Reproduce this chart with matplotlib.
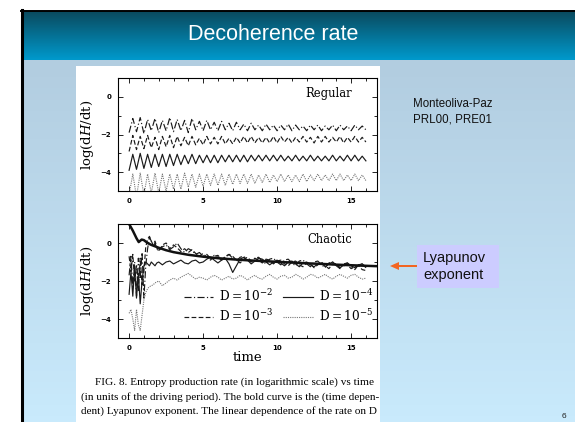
import numpy as np
import matplotlib
matplotlib.use('Agg')
import matplotlib.pyplot as plt
from matplotlib.patches import Rectangle, FancyArrow
from matplotlib.ticker import MultipleLocator

plt.rcParams['mathtext.fontset'] = 'dejavuserif'

# ------------------------------------------------------------------
# Datos
titulo = 'Decoherence rate'
referencia = ['Monteoliva-Paz', 'PRL00, PRE01']
caja_texto = ['Lyapunov', 'exponent']
pie = ['FIG. 8. Entropy production rate (in logarithmic scale) vs time',
       '(in units of the driving period). The bold curve is the (time depen-',
       'dent) Lyapunov exponent. The linear dependence of the rate on D']
etiquetas = [r'D$=10^{-2}$', r'D$=10^{-3}$', r'D$=10^{-4}$', r'D$=10^{-5}$']
xticks = [0, 5, 10, 15]
yticks = [0, -2, -4]

# Panel regular: paso 0.25 en tiempo (t = 0 ... 16)
t_reg = np.arange(0, 16.01, 0.25)
reg_d2 = [-1.9, -1.15, -1.85, -1.1,  -1.95, -1.2, -1.8, -1.15,
          -1.9, -1.25, -1.8, -1.1,   -1.85, -1.2, -1.8, -1.25,
          -1.9, -1.15, -1.75, -1.3,  -1.8, -1.25, -1.75, -1.35,
          -1.8, -1.3, -1.75, -1.4,   -1.8, -1.35, -1.75, -1.45,
          -1.8, -1.4, -1.75, -1.5,   -1.8, -1.45, -1.75, -1.5,
          -1.8, -1.5, -1.75, -1.45,  -1.8, -1.5, -1.75, -1.55,
          -1.8, -1.5, -1.75, -1.5,   -1.8, -1.55, -1.75, -1.5,
          -1.8, -1.5, -1.75, -1.55,  -1.8, -1.5, -1.75, -1.55,
          -1.75]
reg_d3 = [-2.9, -2.05, -2.8, -2.1,   -2.75, -2.05, -2.7, -2.15,
          -2.8, -2.1, -2.65, -2.05,  -2.7, -2.1, -2.6, -2.15,
          -2.6, -2.1, -2.55, -2.2,   -2.55, -2.1, -2.5, -2.15,
          -2.5, -2.1, -2.5, -2.2,    -2.5, -2.15, -2.45, -2.1,
          -2.45, -2.1, -2.45, -2.15, -2.45, -2.15, -2.45, -2.1,
          -2.45, -2.1, -2.4, -2.15,  -2.45, -2.15, -2.4, -2.1,
          -2.4, -2.15, -2.45, -2.1,  -2.4, -2.1, -2.4, -2.15,
          -2.4, -2.1, -2.45, -2.15,  -2.4, -2.1, -2.4, -2.15,
          -2.4]
reg_d4 = [-3.9, -3.05, -3.85, -3.0,  -3.8, -3.05, -3.75, -3.05,
          -3.7, -3.05, -3.7, -3.05,  -3.65, -3.05, -3.6, -3.1,
          -3.55, -3.05, -3.55, -3.1, -3.5, -3.1, -3.5, -3.1,
          -3.5, -3.1, -3.45, -3.1,   -3.45, -3.1, -3.45, -3.1,
          -3.45, -3.1, -3.4, -3.1,   -3.4, -3.1, -3.4, -3.1,
          -3.4, -3.1, -3.4, -3.15,   -3.4, -3.1, -3.4, -3.15,
          -3.4, -3.1, -3.4, -3.15,   -3.4, -3.15, -3.4, -3.1,
          -3.4, -3.15, -3.4, -3.1,   -3.4, -3.1, -3.4, -3.15,
          -3.4]
reg_d5 = [-5.2, -4.1, -5.3, -4.05,   -5.2, -4.1, -5.1, -4.05,
          -5.1, -4.1, -5.0, -4.1,    -4.9, -4.1, -4.9, -4.05,
          -4.8, -4.1, -4.8, -4.1,    -4.75, -4.1, -4.7, -4.1,
          -4.7, -4.1, -4.7, -4.1,    -4.65, -4.1, -4.6, -4.1,
          -4.6, -4.1, -4.6, -4.15,   -4.55, -4.1, -4.55, -4.15,
          -4.5, -4.1, -4.5, -4.15,   -4.5, -4.15, -4.5, -4.1,
          -4.5, -4.15, -4.45, -4.1,  -4.45, -4.15, -4.45, -4.1,
          -4.45, -4.1, -4.45, -4.15, -4.45, -4.1, -4.45, -4.15,
          -4.45]

# Panel caotico: paso 0.125 hasta t=2, luego 0.25 hasta t=16
t_cao = np.concatenate([np.arange(0, 2, 0.125), np.arange(2, 16.01, 0.25)])
cao_d2 = [-1.7, -0.7, -2.3, -1.0, -2.8, -0.8, -1.9, -0.5,
          -2.9, -1.2, -0.3, 0.3, 0.1, -0.2, 0.0, -0.3,
          -0.4, -0.2, -0.1, -0.35,  -0.2, 0.0, -0.3, -0.5,
          -0.3, -0.4, -0.6, -0.5,   -0.7, -0.6, -0.8, -0.65,
          -0.75, -0.9, -0.7, -0.6,  -0.8, -0.95, -0.75, -0.7,
          -0.9, -1.0, -0.8, -0.75,  -0.95, -1.1, -0.85, -0.8,
          -1.0, -1.15, -0.9, -0.85, -1.05, -1.2, -0.95, -0.9,
          -1.1, -1.25, -1.0, -0.95, -1.15, -1.3, -1.05, -1.0,
          -1.2, -1.35, -1.1, -1.05, -1.25, -1.4, -1.15, -1.1,
          -1.3]
cao_d3 = [-0.7, -1.5, -0.6, -2.0, -1.2, -2.5, -0.8, -2.2,
          -1.5, -0.2, 0.2, 0.35, 0.1, -0.1, 0.1, -0.2,
          -0.45, -0.1, 0.0, -0.3,   -0.1, -0.25, -0.45, -0.3,
          -0.5, -0.35, -0.55, -0.7, -0.55, -0.75, -0.9, -0.7,
          -0.65, -0.85, -0.75, -0.6, -0.7, -0.9, -1.05, -0.85,
          -0.75, -0.95, -0.8, -0.9, -1.05, -0.85, -0.9, -1.1,
          -0.95, -0.9, -1.1, -1.2,  -1.0, -0.95, -1.15, -1.25,
          -1.05, -1.1, -1.3, -1.15, -1.0, -1.2, -1.35, -1.1,
          -1.1, -1.3, -1.2, -1.15,  -1.35, -1.25, -1.2, -1.4,
          -1.45]
cao_d4 = [-2.7, -1.5, -2.8, -1.3, -2.9, -1.6, -3.2, -2.0,
          -1.2, -1.0, -1.1, -1.2, -1.0, -1.1, -1.2, -1.05,
          -1.0, -1.15, -1.0, -0.95, -1.1, -1.0, -0.9, -1.05,
          -1.1, -0.95, -0.9, -1.05,  -1.0, -0.85, -0.75, -0.9,
          -1.05, -0.9, -0.8, -1.1,   -1.55, -1.2, -0.85, -0.75,
          -0.9, -1.1, -0.95, -0.8,   -0.85, -1.0, -1.15, -1.0,
          -0.9, -1.05, -1.2, -1.0,   -0.95, -1.1, -1.25, -1.05,
          -1.0, -1.15, -1.25, -1.1,  -1.05, -1.25, -1.1, -1.0,
          -1.15, -1.3, -1.15, -1.05, -1.2, -1.3, -1.15, -1.1,
          -1.25]
cao_d5 = [-3.7, -3.5, -4.0, -4.6, -3.5, -4.3, -4.6, -3.8,
          -3.0, -2.6, -2.4, -2.3, -2.25, -2.2, -2.1, -2.05,
          -2.0, -2.25, -2.1, -1.95,  -1.85, -1.95, -1.8, -1.7,
          -1.6, -1.75, -1.9, -1.8,   -1.85, -1.95, -1.8, -1.7,
          -1.8, -1.95, -1.85, -1.75, -1.9, -1.85, -1.7, -1.8,
          -1.95, -1.8, -1.7, -1.85,  -1.9, -1.75, -1.65, -1.8,
          -1.9, -1.75, -1.7, -1.85,  -1.8, -1.65, -1.75, -1.9,
          -1.8, -1.65, -1.7, -1.85,  -1.75, -1.65, -1.8, -1.9,
          -1.75, -1.65, -1.75, -1.85, -1.7, -1.65, -1.8, -1.9,
          -1.85]
# Exponente de Lyapunov (curva gruesa)
t_lyap = [0, 0.25, 0.5, 0.65, 0.85, 1.0, 1.25, 1.5, 2, 2.5, 3, 3.5, 4,
          5, 6, 7, 8, 9, 10, 11, 12, 13, 14, 15, 16, 16.75]
lyap = [1.0, 0.65, 0.25, 0.05, 0.18, 0.15, 0.0, -0.1, -0.25, -0.38, -0.48,
        -0.55, -0.62, -0.72, -0.8, -0.86, -0.91, -0.95, -0.99, -1.03,
        -1.07, -1.1, -1.14, -1.17, -1.2, -1.22]

# ------------------------------------------------------------------
W, H = 575, 422
fig = plt.figure(figsize=(W/100, H/100), dpi=100)

# Fondo de la diapositiva (coordenadas en pixeles)
bg = fig.add_axes([0, 0, 1, 1])
bg.set_xlim(0, W)
bg.set_ylim(H, 0)
bg.axis('off')

def degradado(c0, c1, n=64):
  c0 = np.array(matplotlib.colors.to_rgb(c0))
  c1 = np.array(matplotlib.colors.to_rgb(c1))
  f = np.linspace(0, 1, n)[:, None]
  return (c0 + (c1 - c0)*f)[:, None, :]

bg.imshow(degradado('#0a4a5e', '#0099cc'), extent=(21, W, 60, 11), aspect='auto')
bg.imshow(degradado('#b2cde0', '#c9eafc'), extent=(21, W, H, 60), aspect='auto')
bg.plot([22, 22], [10, H], color='black', lw=2.2)
bg.plot([21, W], [10.5, 10.5], color='black', lw=1.4)
bg.add_patch(Rectangle((76, 66), 304, H - 66, facecolor='white', edgecolor='none'))
bg.set_xlim(0, W)
bg.set_ylim(H, 0)

bg.text(273, 35, titulo, color='white', fontsize=15.5, family='Liberation Sans',
        ha='center', va='center')
bg.text(413, 104, referencia[0], fontsize=8.3, family='Liberation Sans',
        color='#111111', va='center')
bg.text(413, 119, referencia[1], fontsize=8.3, family='Liberation Sans',
        color='#111111', va='center')
bg.add_patch(Rectangle((417, 245), 82, 43, facecolor='#ccccff', edgecolor='none'))
bg.text(423, 258, caja_texto[0], fontsize=10.5, family='Liberation Sans',
        color='#111111', va='center')
bg.text(423, 275, caja_texto[1], fontsize=10.5, family='Liberation Sans',
        color='#111111', va='center')
bg.add_patch(FancyArrow(417, 266, -27, 0, width=2, head_width=8, head_length=9,
                        length_includes_head=True, color='#f26522', lw=0))
bg.text(564, 416, '6', fontsize=6, family='Liberation Sans', color='#222222',
        ha='center', va='center')

bg.text(95, 382, pie[0], fontsize=8.1, family='Liberation Serif', va='center')
bg.text(81, 397, pie[1], fontsize=8.1, family='Liberation Serif', va='center')
bg.text(81, 411, pie[2], fontsize=8.1, family='Liberation Serif', va='center')

# ------------------------------------------------------------------
def panel(rect):
  ax = fig.add_axes(rect)
  ax.set_xlim(-0.75, 16.75)
  ax.set_ylim(-5, 1)
  ax.set_xticks(xticks)
  ax.set_yticks(yticks)
  ax.xaxis.set_minor_locator(MultipleLocator(1))
  ax.yaxis.set_minor_locator(MultipleLocator(1))
  ax.tick_params(which='both', direction='in', top=True, right=True, width=0.6,
                 labelsize=5, pad=5)
  ax.tick_params(which='major', length=3.5)
  ax.tick_params(which='minor', length=2)
  for lab in ax.get_xticklabels() + ax.get_yticklabels():
    lab.set_fontweight('bold')
  for s in ax.spines.values():
    s.set_linewidth(0.8)
  ax.set_ylabel(r'log(d$H$/dt)', family='DejaVu Serif', fontsize=9.5, labelpad=3)
  return ax

estilos = [dict(ls=(0, (6, 2, 1, 2)), color='#1a1a1a', lw=0.85),
           dict(ls=(0, (4, 2)), color='#1a1a1a', lw=0.85),
           dict(ls='-', color='#1a1a1a', lw=0.85),
           dict(ls=(0, (1, 1)), color='#777777', lw=0.8)]

ax1 = panel([118/W, 1 - 191/H, 259/W, 113/H])
for y, st in zip([reg_d2, reg_d3, reg_d4, reg_d5], estilos):
  ax1.plot(t_reg, y, **st)
ax1.text(0.905, 0.86, 'Regular', transform=ax1.transAxes, ha='right', va='center',
         family='DejaVu Serif', fontsize=8.3)

ax2 = panel([118/W, 1 - 338/H, 259/W, 114/H])
lineas = []
for y, st, lab in zip([cao_d2, cao_d3, cao_d4, cao_d5], estilos, etiquetas):
  l, = ax2.plot(t_cao, y, label=lab, **st)
  lineas.append(l)
ax2.plot(t_lyap, lyap, color='#111111', lw=1.8, solid_capstyle='butt')
ax2.text(0.905, 0.86, 'Chaotic', transform=ax2.transAxes, ha='right', va='center',
         family='DejaVu Serif', fontsize=8.3)
ax2.set_xlabel('time', family='DejaVu Serif', fontsize=9.5, labelpad=0)
ax2.legend(handles=lineas, ncol=2, loc='center', bbox_to_anchor=(0.62, 0.28),
           frameon=False, handlelength=2.4, handletextpad=0.5,
           columnspacing=0.8, labelspacing=0.3, prop={'family': 'DejaVu Serif', 'size': 8.8})

fig.savefig('out.png', dpi=100)
